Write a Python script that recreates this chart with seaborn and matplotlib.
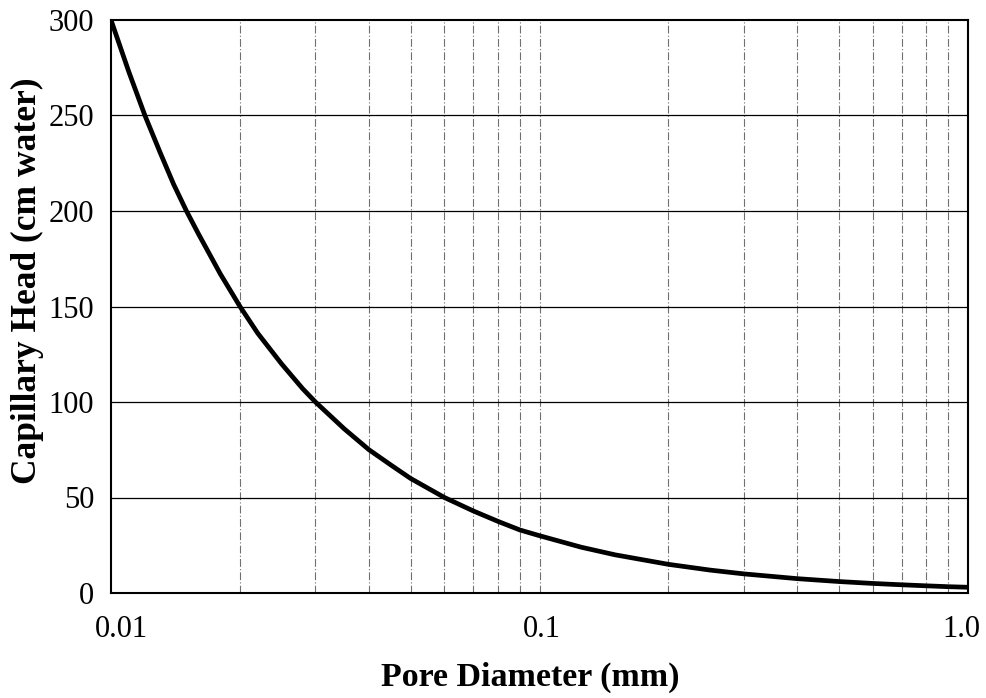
import matplotlib
matplotlib.use("Agg")
import matplotlib.pyplot as plt
import matplotlib.transforms as mtransforms
import seaborn as sns
import pandas as pd
from matplotlib.ticker import FixedLocator, FixedFormatter, NullFormatter

# Data
pore_diameter_mm = [0.01, 0.011, 0.012, 0.013, 0.014, 0.015, 0.016, 0.018, 0.02, 0.022,
                    0.025, 0.028, 0.03, 0.035, 0.04, 0.045, 0.05, 0.06, 0.07, 0.08,
                    0.09, 0.1, 0.125, 0.15, 0.2, 0.25, 0.3, 0.4, 0.5, 0.6, 0.7,
                    0.8, 0.9, 1.0]
capillary_head_cm = [300, 273, 250, 231, 214, 200, 188, 167, 150, 136,
                     120, 107, 100, 86, 75, 67, 60, 50, 43, 37.5,
                     33, 30, 24, 20, 15, 12, 10, 7.5, 6, 5, 4.3,
                     3.75, 3.3, 3]
x_ticks = [0.01, 0.1, 1.0]
x_tick_labels = ["0.01", "0.1", "1.0"]
y_ticks = [0, 50, 100, 150, 200, 250, 300]

df = pd.DataFrame({"d": pore_diameter_mm, "h": capillary_head_cm})

sns.set_theme(style="white")
plt.rcParams["font.family"] = ["Liberation Serif", "DejaVu Serif"]

fig = plt.figure(figsize=(9.87, 6.98), dpi=100)
ax = fig.add_axes([111 / 987, 1 - 593 / 698, 857 / 987, 573 / 698])

# grid lines
minor = [m * 10**e for e in (-2, -1) for m in range(2, 10)] + [0.1]
for xv in minor:
    ax.axvline(xv, color="#707070", lw=0.8, ls=(0, (7, 2, 1, 2)), zorder=1)
for yv in y_ticks[1:-1]:
    ax.axhline(yv, color="black", lw=0.9, zorder=1)

sns.lineplot(data=df, x="d", y="h", ax=ax, color="black", lw=3.4, zorder=3)

ax.set_xscale("log")
ax.set_xlim(0.01, 1.0)
ax.set_ylim(0, 300)
ax.xaxis.set_major_locator(FixedLocator(x_ticks))
ax.xaxis.set_major_formatter(FixedFormatter(x_tick_labels))
ax.xaxis.set_minor_formatter(NullFormatter())
ax.set_yticks(y_ticks)
ax.tick_params(axis="x", which="both", length=0, pad=16, labelsize=22, colors="black")
ax.tick_params(axis="y", length=0, pad=12, labelsize=22, colors="black")

# Excel-style nudges of the end tick labels
labels = ax.get_xticklabels()
offsets = [10, 2, -7]
for lab, dx in zip(labels, offsets):
    lab.set_transform(lab.get_transform() + mtransforms.ScaledTranslation(dx / 100, 0, fig.dpi_scale_trans))

for s in ax.spines.values():
    s.set_color("black")
    s.set_linewidth(1.5)

ax.set_xlabel("Pore Diameter (mm)", fontsize=24.5, fontweight="bold", color="black")
ax.set_ylabel("Capillary Head (cm water)", fontsize=25.5, fontweight="bold", color="black")
ax.xaxis.set_label_coords(530 / 987, 1 - 662 / 698, transform=fig.transFigure)
ax.yaxis.set_label_coords(44 / 987, 1 - 281 / 698, transform=fig.transFigure)

fig.savefig("out.png", dpi=100)
